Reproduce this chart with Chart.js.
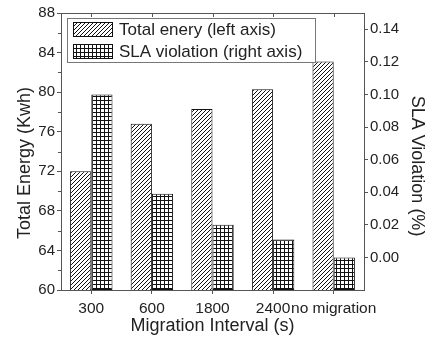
<!DOCTYPE html>
<html><head><meta charset="utf-8">
<script src="https://cdn.jsdelivr.net/npm/chart.js@4.4.1/dist/chart.umd.min.js"></script>
<style>html,body{margin:0;padding:0;background:#fff}#wrap{width:426px;height:337px;position:relative}</style>
</head><body><div id="wrap"><canvas id="c"></canvas></div>
<script>
const categories = ['300', '600', '1800', '2400', 'no migration'];
const energyValues = [72.0, 76.8, 78.3, 80.3, 83.1];
const slaValues = [0.100, 0.039, 0.020, 0.011, 0.000];
const energyTicks = [60, 64, 68, 72, 76, 80, 84, 88];
const energyMinorTicks = [62, 66, 70, 74, 78, 82, 86];
const slaTicks = [0.00, 0.02, 0.04, 0.06, 0.08, 0.10, 0.12, 0.14];
const seriesNames = ['Total enery (left axis)', 'SLA violation (right axis)'];
const xTitle = 'Migration Interval (s)';
const yTitle = 'Total Energy (Kwh)';
const y1Title = 'SLA Violation (%)';

const F = "'Liberation Sans', Arial, sans-serif";
const AXIS = '#555';
const TEXT = '#222';

function hatchPattern() {
  const n = 4;
  const c = document.createElement('canvas'); c.width = n; c.height = n;
  const g = c.getContext('2d');
  g.fillStyle = '#fff'; g.fillRect(0, 0, n, n);
  g.strokeStyle = '#111'; g.lineWidth = 1;
  g.beginPath();
  g.moveTo(0, n); g.lineTo(n, 0);
  g.moveTo(-1, 1); g.lineTo(1, -1);
  g.moveTo(n - 1, n + 1); g.lineTo(n + 1, n - 1);
  g.stroke();
  return g.createPattern(c, 'repeat');
}
function gridPattern() {
  const c = document.createElement('canvas'); c.width = 4; c.height = 4;
  const g = c.getContext('2d');
  g.fillStyle = '#fff'; g.fillRect(0, 0, 4, 4);
  g.fillStyle = '#111'; g.fillRect(0, 0, 4, 1); g.fillRect(0, 0, 1, 4);
  return g.createPattern(c, 'repeat');
}
const hatch = hatchPattern();
const grid = gridPattern();

const framePlugin = {
  id: 'frame',
  afterDraw(chart) {
    const ctx = chart.ctx, a = chart.chartArea;
    const xs = chart.scales.x, ys = chart.scales.y;
    ctx.save();
    ctx.strokeStyle = AXIS; ctx.lineWidth = 1;
    ctx.beginPath();
    ctx.moveTo(a.left, a.top + 0.5); ctx.lineTo(a.right, a.top + 0.5);
    for (let i = 0; i < categories.length; i++) {
      const px = Math.round(xs.getPixelForValue(i)) + 0.5;
      ctx.moveTo(px, a.top); ctx.lineTo(px, a.top + 4);
    }
    energyMinorTicks.forEach(v => {
      const py = Math.round(ys.getPixelForValue(v)) + 0.5;
      ctx.moveTo(a.left - 3, py); ctx.lineTo(a.left, py);
    });
    ctx.stroke();

    // legend
    const lx = a.left + 6, ly = a.top + 5, lw = 248, lh = 44;
    ctx.fillStyle = '#fff';
    ctx.fillRect(lx, ly, lw, lh);
    ctx.strokeStyle = '#777';
    ctx.strokeRect(lx + 0.5, ly + 0.5, lw, lh);
    const fills = [hatch, grid];
    ctx.font = '17px ' + F;
    ctx.textBaseline = 'middle';
    for (let i = 0; i < 2; i++) {
      const sy = ly + 4 + i * 22;
      ctx.fillStyle = fills[i];
      ctx.fillRect(lx + 6, sy, 39, 14);
      ctx.strokeStyle = '#111';
      ctx.strokeRect(lx + 6.5, sy + 0.5, 39, 14);
      ctx.fillStyle = TEXT;
      ctx.fillText(seriesNames[i], lx + 52, sy + 8);
    }

    // y titles
    ctx.font = '18px ' + F;
    ctx.fillStyle = TEXT;
    ctx.textAlign = 'center';
    ctx.save();
    ctx.translate(25, 163); ctx.rotate(-Math.PI / 2);
    ctx.fillText(yTitle, 0, 0);
    ctx.restore();
    ctx.save();
    ctx.translate(417, 166); ctx.rotate(Math.PI / 2);
    ctx.fillText(y1Title, 0, 0);
    ctx.restore();
    ctx.restore();
  }
};

new Chart(document.getElementById('c'), {
  type: 'bar',
  data: {
    labels: categories,
    datasets: [
      { label: seriesNames[0], data: energyValues, yAxisID: 'y', backgroundColor: hatch, borderColor: '#111', borderWidth: 1, borderSkipped: false },
      { label: seriesNames[1], data: slaValues, yAxisID: 'y1', base: -0.02, backgroundColor: grid, borderColor: '#111', borderWidth: 1, borderSkipped: false }
    ]
  },
  options: {
    responsive: true, maintainAspectRatio: false, animation: false, devicePixelRatio: 1,
    layout: { padding: { top: 13, left: 0, right: 0, bottom: 0 } },
    categoryPercentage: 0.7, barPercentage: 1.0,
    plugins: { legend: { display: false }, tooltip: { enabled: false } },
    scales: {
      x: {
        position: 'bottom', offset: true,
        grid: { drawOnChartArea: false, drawTicks: true, tickLength: 4, offset: false, color: AXIS },
        border: { display: true, color: AXIS, width: 1 },
        ticks: { font: { family: F, size: 15.5 }, color: TEXT, padding: 5, maxRotation: 0, autoSkip: false },
        title: { display: true, text: xTitle, font: { family: F, size: 18 }, color: TEXT, padding: { top: 0, bottom: 0 } },
        afterFit(s) { s.height = 47; }
      },
      y: {
        position: 'left', min: 60, max: 88,
        afterBuildTicks(s) { s.ticks = energyTicks.map(v => ({ value: v })); },
        grid: { drawOnChartArea: false, drawTicks: true, tickLength: 4, color: AXIS },
        border: { display: true, color: AXIS, width: 1 },
        ticks: { font: { family: F, size: 15 }, color: TEXT, padding: 2 },
        afterFit(s) { s.width = 61; }
      },
      y1: {
        position: 'right', min: -0.02, max: 0.15,
        afterBuildTicks(s) { s.ticks = slaTicks.map(v => ({ value: v })); },
        grid: { drawOnChartArea: false, drawTicks: true, tickLength: 4, color: AXIS },
        border: { display: true, color: AXIS, width: 1 },
        ticks: { font: { family: F, size: 15 }, color: TEXT, padding: 2, callback: v => Number(v).toFixed(2) },
        afterFit(s) { s.width = 62; }
      }
    }
  },
  plugins: [framePlugin]
});
</script></body></html>
